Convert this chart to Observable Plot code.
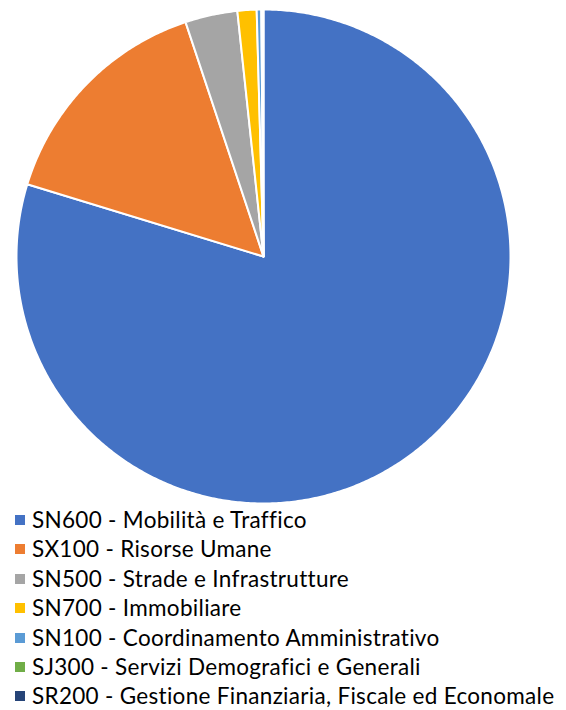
<!DOCTYPE html>
<html>
<head>
<meta charset="utf-8">
<script src="https://cdn.jsdelivr.net/npm/d3@7"></script>
<script src="https://cdn.jsdelivr.net/npm/@observablehq/plot@0.6"></script>
<style>
  body { margin: 0; background: #fff; overflow: hidden; }
  #chart { width: 566px; }
  .legend { font-family: Lato, "Open Sans", sans-serif; font-size: 22.5px; letter-spacing: 0.3px; color: #000; margin-top: 0; }
  .legend .item { height: 29.4px; position: relative; white-space: nowrap; }
  .legend .sw { position: absolute; left: 15px; top: 10px; width: 10px; height: 10px; }
  .legend .lab { position: absolute; left: 32px; top: 4px; line-height: 22px; }
</style>
</head>
<body>
<div id="chart"></div>
<script>
const categories = [
  "SN600 - Mobilità e Traffico",
  "SX100 - Risorse Umane",
  "SN500 - Strade e Infrastrutture",
  "SN700 - Immobiliare",
  "SN100 - Coordinamento Amministrativo",
  "SJ300 - Servizi Demografici e Generali",
  "SR200 - Gestione Finanziaria, Fiscale ed Economale"
];
const values = [79.72, 15.17, 3.42, 1.25, 0.30, 0.07, 0.07];
const colors = ["#4472C4", "#ED7D31", "#A5A5A5", "#FFC000", "#5B9BD5", "#70AD47", "#264478"];

const arcs = d3.pie().sort(null).value(d => d)(values);
const points = [];
arcs.forEach((a, i) => {
  const cat = categories[i];
  points.push({cat, x: 0, y: 0});
  const n = Math.max(2, Math.ceil((a.endAngle - a.startAngle) / (Math.PI / 360)));
  for (let k = 0; k <= n; k++) {
    const t = a.startAngle + (a.endAngle - a.startAngle) * k / n;
    points.push({cat, x: Math.sin(t), y: Math.cos(t)});
  }
});

const plot = Plot.plot({
  width: 566,
  height: 505,
  marginLeft: 16,
  marginRight: 56,
  marginTop: 9,
  marginBottom: 2,
  x: {domain: [-1, 1], axis: null},
  y: {domain: [-1, 1], axis: null},
  color: {domain: categories, range: colors},
  marks: [
    Plot.line(points, {x: "x", y: "y", z: "cat", fill: "cat", stroke: "white", strokeWidth: 2, strokeLinejoin: "round", curve: "linear-closed"})
  ]
});
document.getElementById("chart").appendChild(plot);

const legend = document.createElement("div");
legend.className = "legend";
categories.forEach((c, i) => {
  const item = document.createElement("div");
  item.className = "item";
  const sw = document.createElement("span");
  sw.className = "sw";
  sw.style.background = colors[i];
  const lab = document.createElement("span");
  lab.className = "lab";
  lab.textContent = c;
  item.appendChild(sw);
  item.appendChild(lab);
  legend.appendChild(item);
});
document.getElementById("chart").appendChild(legend);
</script>
</body>
</html>
